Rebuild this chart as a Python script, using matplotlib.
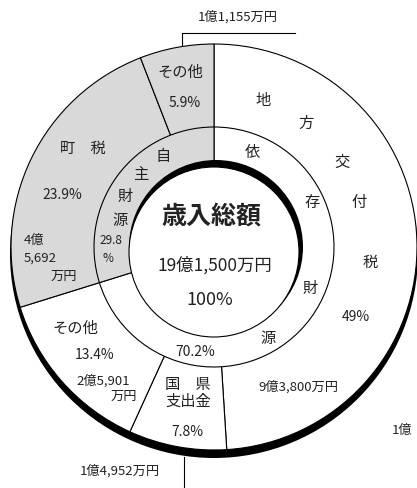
import matplotlib
matplotlib.use('Agg')
import matplotlib.pyplot as plt
from matplotlib.patches import Wedge, Circle

plt.rcParams['font.family'] = ['Noto Sans CJK JP', 'DejaVu Sans']

## -- outer ring: items, clockwise from 12 o'clock
outer_names = ['地方交付税', '国県支出金', 'その他', '町税', 'その他']
outer_pct = [49.0, 7.8, 13.4, 23.9, 5.9]
outer_amount = ['9億3,800万円', '1億4,952万円', '2億5,901万円', '4億5,692万円', '1億1,155万円']
## -- middle ring
inner_names = ['依存財源', '自主財源']
inner_pct = [70.2, 29.8]
total_label = '19億1,500万円'
total_pct = '100%'

GRAY = '#d9d9d9'
outer_fill = ['white', 'white', 'white', GRAY, GRAY]
inner_fill = ['white', GRAY]

W, H = 417, 488
fig = plt.figure(figsize=(W/100, H/100), dpi=100)
ax = fig.add_axes([0, 0, 1, 1])
ax.set_xlim(0, W)
ax.set_ylim(0, H)
ax.set_aspect('equal')
ax.axis('off')

def Y(y):
 ## -- pixel row -> data y
 return H - y

cx, cy = 214, Y(247)
r_out, r_mid = 203, 120
lw = 0.8

def ring(pcts, fills, r, width=None):
 start = 0.0
 for p, f in zip(pcts, fills):
  end = start + p*3.6
  ax.add_patch(Wedge((cx, cy), r, 90-end, 90-start, width=width,
   facecolor=f, edgecolor='k', lw=lw))
  start = end

## -- shadow under the outer ring
ax.add_patch(Circle((cx, cy-7), r_out+1, facecolor='k', edgecolor='none'))
ring(outer_pct, outer_fill, r_out)
ring(inner_pct, inner_fill, r_mid)
## -- shadow + white centre
ax.add_patch(Circle((216, Y(247)), 87, facecolor='k', edgecolor='none'))
ax.add_patch(Circle((214, Y(252)), 85, facecolor='white', edgecolor='k', lw=lw))

def t(x, y, s, size=10, **kw):
 kw.setdefault('ha', 'center')
 kw.setdefault('va', 'center')
 ax.text(x, Y(y), s, fontsize=size, color='#222222', **kw)

## -- centre
t(211, 217, '歳入総額', size=18, fontweight='bold')
t(215, 265, total_label, size=12.5)
t(210, 300, total_pct, size=13, style='italic')

## -- 地方交付税
for ch, (x, y) in zip(outer_names[0], [(263, 100), (306, 123), (342, 162), (359, 203), (370, 262)]):
 t(x, y, ch, size=11)
t(356, 317, '%g%%' % outer_pct[0])
t(298, 387, outer_amount[0], size=9.5)

## -- 国県支出金
t(188, 384, '国　県', size=11)
t(188, 401, '支出金', size=11)
t(187, 432, '%.1f%%' % outer_pct[1])
t(120, 471, outer_amount[1], size=9.5)
ax.plot([184, 184], [Y(457), Y(488)], color='k', lw=lw)

## -- その他 (依存)
t(75, 328, outer_names[2], size=11)
t(95, 355, '%.1f%%' % outer_pct[2])
t(103, 381, outer_amount[2][:7], size=9.5)
t(124, 396, outer_amount[2][7:], size=9.5)

## -- 町税
t(83, 148, '町　税', size=11)
t(62, 195, '%.1f%%' % outer_pct[3])
t(24, 240, outer_amount[3][:2], size=9.5, ha='left')
t(24, 258, outer_amount[3][2:7], size=9.5, ha='left')
t(64, 276, outer_amount[3][7:], size=9.5)

## -- その他 (自主)
t(180, 72, outer_names[4], size=11)
t(185, 103, '%.1f%%' % outer_pct[4])
t(238, 17, outer_amount[4], size=9.5)
ax.plot([182, 182, 295], [Y(45), Y(33), Y(33)], color='k', lw=lw)

## -- middle ring
for ch, (x, y) in zip(inner_names[0], [(252, 152), (312, 203), (310, 288), (268, 338)]):
 t(x, y, ch, size=11)
t(195, 352, '%.1f%%' % inner_pct[0])
for ch, (x, y) in zip(inner_names[1], [(163, 157), (141, 175), (125, 196), (120, 220)]):
 t(x, y, ch, size=11)
t(111, 241, '%.1f' % inner_pct[1], size=8.5)
t(108, 259, '%', size=8.5)

## -- clipped label of the neighbouring chart
t(392, 430, '1億', size=9.5, ha='left')

fig.savefig('out.png', dpi=100)
